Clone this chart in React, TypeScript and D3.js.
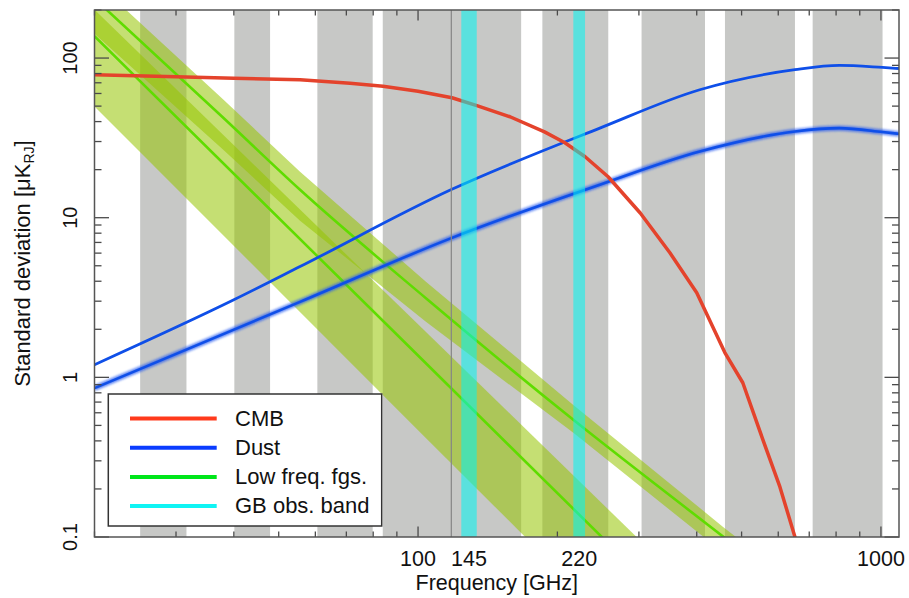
import React from "react";
import * as d3 from "d3";

// ---------- data ----------
const xDomain = [20, 1094];
const yDomain = [0.1, 200];

// gray frequency bands [GHz]
const grayBandLow = [25.1, 40.1, 60.6, 83.9, 185.6, 304, 460.3, 712];
const grayBandHigh = [31.6, 47.9, 79.8, 167, 257.6, 416.8, 652, 1008];

// ground-based observation bands
const obsBandLabels = ["145", "220"];
const obsBandLow = [124.0, 216.5];
const obsBandHigh = [133.9, 229.5];
const markerLineFreq = 118;

// CMB
const cmbFreq = [20, 30, 40, 55.6, 71.3, 84, 100, 118.4, 134, 158, 187.6, 207.6, 229.6, 257.4, 302, 350, 400, 460, 503, 556, 605, 652, 712];
const cmbVal = [78.6, 76.4, 74.7, 73.1, 69.5, 66.6, 61.9, 56.4, 50.3, 42.9, 34.5, 29.5, 24.1, 18.05, 10.7, 6.03, 3.39, 1.43, 0.925, 0.406, 0.206, 0.1, 0.044];

// Dust (two curves)
const dustHiFreq = [20, 40, 55.6, 118, 247, 406, 652, 813, 1008, 1094];
const dustHiVal = [1.2, 3.06, 4.94, 15, 36.4, 63.3, 84.5, 89.9, 87.3, 86];
const dustLoFreq = [20, 55.6, 118, 247, 406, 652, 813, 1008, 1094];
const dustLoVal = [0.856, 2.97, 7.45, 16.1, 26, 34.7, 36.4, 34.4, 33.5];

// Low frequency foregrounds: line 1 with its band
const lf1Freq = [20, 100, 300];
const lf1Val = [137, 1.37, 0.059];
const lf1UpFreq = [20, 100, 400];
const lf1UpVal = [201, 2.15, 0.043];
const lf1LoFreq = [20, 100, 250];
const lf1LoVal = [49.7, 0.467, 0.033];

// Low frequency foregrounds: line 2 with its band
const lf2Freq = [20, 38, 55.6, 104, 216.5, 456, 600];
const lf2Val = [236, 42.1, 14.95, 3.13, 0.542, 0.1006, 0.0543];
const lf2UpVal = [305, 54.8, 19.4, 3.97, 0.672, 0.1157, 0.062];
const lf2LoVal = [142, 26.6, 9.56, 2.23, 0.449, 0.08, 0.043];

const legendLabels = ["CMB", "Dust", "Low freq. fgs.", "GB obs. band"];
const legendColors = ["#ff3a1c", "#0a3cff", "#00e61a", "#10f4f4"];

const yTickLabels = [0.1, 1, 10, 100];
const xTickLabels = [100, 1000];

// ---------- chart ----------
const L = 94.5, R = 899, T = 10, B = 537;
const FONT = "'Liberation Sans', Arial, Helvetica, sans-serif";

export default function App() {
  const x = d3.scaleLog().domain(xDomain).range([L, R]);
  const y = d3.scaleLog().domain(yDomain).range([B, T]);

  const pts = (fs: number[], vs: number[]) => fs.map((f, i) => [x(f), y(vs[i])] as [number, number]);
  const lineSmooth = d3.line().curve(d3.curveMonotoneX);
  const lineLin = d3.line();
  const poly = (uf: number[], uv: number[], lf: number[], lv: number[]) =>
    lineLin([...pts(uf, uv), ...pts(lf, lv).reverse()]) + "Z";

  const isMajor = (v: number) => Math.abs(Math.log10(v) - Math.round(Math.log10(v))) < 1e-9;
  const xTicks = x.ticks().filter((t) => t >= 20 && t <= 1000);
  const yTicks = y.ticks().filter((t) => t >= 0.1 && t <= 200);

  const greenFill = "rgb(150,197,0)";

  return (
    <svg width={909} height={598} style={{ position: "absolute", left: 0, top: 0, background: "#fff" }}>
      <defs>
        <clipPath id="plotclip">
          <rect x={L} y={T} width={R - L} height={B - T} />
        </clipPath>
        <filter id="blur" x="-10%" y="-10%" width="120%" height="120%">
          <feGaussianBlur stdDeviation="1.3" />
        </filter>
      </defs>
      <rect x={0} y={0} width={909} height={598} fill="#fff" />
      <g clipPath="url(#plotclip)">
        {grayBandLow.map((lo, i) => (
          <rect key={"g" + i} x={x(lo)} y={T} width={x(grayBandHigh[i]) - x(lo)} height={B - T} fill="#c7c8c6" />
        ))}
        <path d={poly(lf1UpFreq, lf1UpVal, lf1LoFreq, lf1LoVal)} fill={greenFill} fillOpacity={0.55} />
        <path d={poly(lf2Freq, lf2UpVal, lf2Freq, lf2LoVal)} fill={greenFill} fillOpacity={0.55} />
        <path d={lineLin(pts(lf1Freq, lf1Val)) || ""} fill="none" stroke="#5fdc00" strokeWidth={2.6} />
        <path d={lineSmooth(pts(lf2Freq, lf2Val)) || ""} fill="none" stroke="#5fdc00" strokeWidth={2.6} />
        <path d={lineSmooth(pts(dustLoFreq, dustLoVal)) || ""} fill="none" stroke="#2a5cf0" strokeWidth={5.5} strokeOpacity={0.7} filter="url(#blur)" />
        <path d={lineSmooth(pts(dustLoFreq, dustLoVal)) || ""} fill="none" stroke="#0f4fe8" strokeWidth={2.6} />
        <path d={lineSmooth(pts(dustHiFreq, dustHiVal)) || ""} fill="none" stroke="#0f4fe8" strokeWidth={2.8} />
        <path d={lineLin(pts(cmbFreq, cmbVal)) || ""} fill="none" stroke="#e4432c" strokeWidth={3.5} strokeLinejoin="round" />
        {obsBandLow.map((lo, i) => (
          <rect key={"c" + i} x={x(lo)} y={T} width={x(obsBandHigh[i]) - x(lo)} height={B - T} fill="#00f5f3" fillOpacity={0.55} />
        ))}
        <line x1={x(markerLineFreq)} x2={x(markerLineFreq)} y1={T} y2={B} stroke="#858585" strokeWidth={1.2} />
      </g>

      {/* ticks */}
      <g stroke="#4a4a4a" strokeWidth={1.3}>
        {xTicks.map((t, i) => {
          const len = isMajor(t) ? 10.5 : 5.5;
          return (
            <g key={"xt" + i}>
              <line x1={x(t)} x2={x(t)} y1={B} y2={B - len} />
              <line x1={x(t)} x2={x(t)} y1={T} y2={T + len} />
            </g>
          );
        })}
        {yTicks.map((t, i) => {
          const len = isMajor(t) ? 14.5 : 7;
          return (
            <g key={"yt" + i}>
              <line x1={L} x2={L + len} y1={y(t)} y2={y(t)} />
              <line x1={R} x2={R - len} y1={y(t)} y2={y(t)} />
            </g>
          );
        })}
      </g>
      <rect x={L} y={T} width={R - L} height={B - T} fill="none" stroke="#555" strokeWidth={1.5} />

      {/* x tick labels */}
      <g fontFamily={FONT} fontSize={21.5} fill="#111" textAnchor="middle">
        {xTickLabels.map((t, i) => (
          <text key={"xl" + i} x={x(t)} y={566}>{String(t)}</text>
        ))}
        {obsBandLabels.map((lab, i) => (
          <text key={"bl" + i} x={(x(obsBandLow[i]) + x(obsBandHigh[i])) / 2} y={566}>{lab}</text>
        ))}
        <text x={(L + R) / 2} y={589.5}>Frequency [GHz]</text>
      </g>

      {/* y tick labels */}
      <g fontFamily={FONT} fontSize={20} fill="#111" textAnchor="middle">
        {yTickLabels.map((t, i) => (
          <text key={"yl" + i} transform={`translate(77,${y(t)}) rotate(-90)`}>{String(t)}</text>
        ))}
        <text transform="translate(30,263.5) rotate(-90)" fontSize={22}>
          Standard deviation [μK<tspan fontSize={14} dy={4}>RJ</tspan><tspan dy={-4}>]</tspan>
        </text>
      </g>

      {/* legend */}
      <g>
        <rect x={108.3} y={394} width={273.4} height={132} fill="#fff" stroke="#333" strokeWidth={1.5} />
        {legendLabels.map((lab, i) => (
          <g key={"lg" + i}>
            <line x1={130} x2={216.7} y1={418.5 + i * 29.2} y2={418.5 + i * 29.2} stroke={legendColors[i]} strokeWidth={4} />
            <text x={235} y={425.5 + i * 29.3} fontFamily={FONT} fontSize={22} fill="#111">{lab}</text>
          </g>
        ))}
      </g>
    </svg>
  );
}
